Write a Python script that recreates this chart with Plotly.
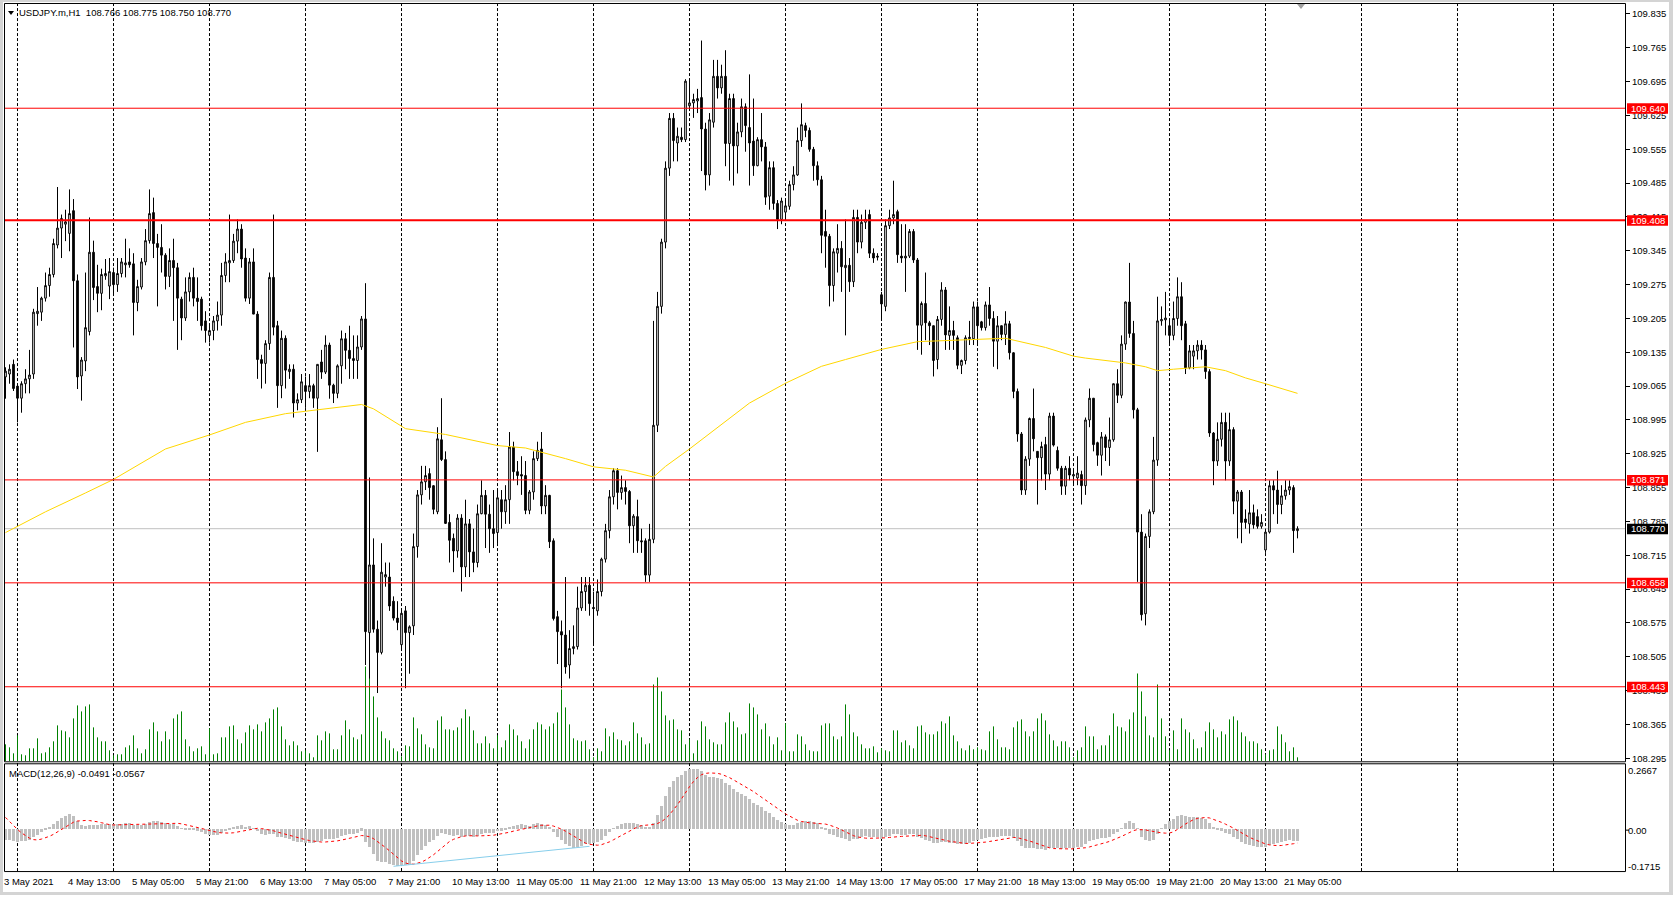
import plotly.graph_objects as go

W, H = 1673, 897

SYMBOL_HEADER = "USDJPY.m,H1  108.766 108.775 108.750 108.770"
MACD_HEADER = "MACD(12,26,9) -0.0491 -0.0567"

# ---------------- hourly OHLC (bar 0 = 3 May 21:00 broker time) ----------------
OPEN = [
109.084,109.090,109.110,109.065,109.040,109.070,109.080,109.090,109.215,109.218,
109.247,109.273,109.296,109.357,109.392,109.400,109.381,109.428,109.283,109.086,
109.117,109.178,109.342,109.271,109.257,109.293,109.272,109.300,109.275,109.298,
109.316,109.322,109.318,109.238,109.270,109.322,109.366,109.424,109.360,109.352,
109.336,109.292,109.325,109.310,109.245,109.206,109.260,109.290,109.247,109.245,
109.200,109.170,109.180,109.200,109.212,109.294,109.320,109.325,109.365,109.390,
109.330,109.247,109.322,109.214,109.120,109.112,109.153,109.290,109.190,109.066,
109.164,109.095,109.100,109.030,109.037,109.066,109.054,109.066,109.040,109.115,
109.094,109.150,109.067,109.050,109.107,109.163,109.139,109.122,109.118,109.146,
109.204,108.555,108.695,108.562,108.514,108.670,108.670,108.620,108.585,108.530,
108.600,108.555,108.569,108.733,108.840,108.867,108.884,108.859,108.805,108.954,
108.913,108.783,108.750,108.724,108.792,108.691,108.780,108.722,108.700,108.801,
108.839,108.800,108.770,108.762,108.830,108.805,108.830,108.939,108.888,108.882,
108.880,108.808,108.846,108.915,108.935,108.817,108.839,108.745,108.588,108.557,
108.550,108.488,108.522,108.526,108.606,108.640,108.653,108.607,108.600,108.640,
108.707,108.766,108.836,108.890,108.845,108.855,108.847,108.776,108.795,108.745,
108.745,108.674,108.748,108.984,109.230,109.363,109.516,109.619,109.568,109.580,
109.575,109.645,109.651,109.655,109.662,109.597,109.502,109.611,109.706,109.682,
109.706,109.567,109.660,109.562,109.591,109.643,109.600,109.572,109.521,109.575,
109.560,109.458,109.517,109.443,109.410,109.425,109.437,109.482,109.502,109.573,
109.604,109.594,109.555,109.521,109.492,109.385,109.375,109.273,109.340,109.350,
109.310,109.315,109.281,109.414,109.363,109.404,109.420,109.340,109.334,109.254,
109.230,109.397,109.413,109.426,109.334,109.330,109.334,109.385,109.326,109.191,
109.236,109.196,109.190,109.120,109.203,109.264,109.170,109.180,109.165,109.108,
109.118,109.163,109.163,109.229,109.198,109.186,109.233,109.205,109.158,109.190,
109.172,109.194,109.134,109.054,108.966,108.850,108.914,108.998,108.930,108.917,
108.944,108.883,109.003,108.932,108.895,108.858,108.895,108.879,108.875,108.882,
108.859,108.995,109.040,108.948,108.922,108.960,108.938,108.954,109.070,109.046,
109.152,109.239,109.174,109.016,108.763,108.594,108.754,108.805,108.912,109.200,
109.202,109.190,109.170,109.205,109.250,109.194,109.103,109.127,109.138,109.150,
109.140,109.095,108.968,108.910,108.955,108.990,108.910,108.975,108.827,108.846,
108.790,108.780,108.803,108.795,108.775,108.726,108.763,108.859,108.850,108.820,
108.838,108.850,108.855,108.766]

HIGH = [
109.104,109.110,109.120,109.070,109.075,109.100,109.140,109.225,109.270,109.250,
109.300,109.310,109.370,109.477,109.420,109.430,109.472,109.452,109.296,109.125,
109.300,109.414,109.366,109.316,109.308,109.328,109.330,109.310,109.330,109.330,
109.370,109.350,109.340,109.285,109.330,109.390,109.472,109.455,109.380,109.400,
109.340,109.350,109.370,109.320,109.250,109.290,109.300,109.310,109.290,109.250,
109.220,109.190,109.210,109.240,109.320,109.340,109.420,109.380,109.410,109.400,
109.350,109.330,109.350,109.220,109.130,109.160,109.300,109.420,109.200,109.180,
109.170,109.110,109.110,109.050,109.090,109.085,109.090,109.070,109.110,109.140,
109.170,109.155,109.070,109.110,109.180,109.175,109.190,109.170,109.170,109.210,
109.278,108.876,108.750,108.580,108.740,108.700,108.700,108.630,108.620,108.600,
108.610,108.570,108.760,108.850,108.900,108.900,108.895,108.860,108.980,109.040,
108.930,108.800,108.760,108.800,108.800,108.830,108.790,108.770,108.820,108.870,
108.850,108.820,108.850,108.850,108.850,108.860,108.970,108.950,108.910,108.920,
108.910,108.850,108.930,108.950,108.970,108.860,108.840,108.750,108.600,108.580,
108.670,108.560,108.570,108.650,108.670,108.670,108.670,108.640,108.665,108.710,
108.780,108.850,108.895,108.895,108.880,108.870,108.850,108.800,108.830,108.770,
108.750,108.780,109.200,109.260,109.370,109.530,109.630,109.630,109.600,109.600,
109.700,109.700,109.670,109.680,109.780,109.610,109.630,109.740,109.740,109.730,
109.760,109.670,109.670,109.610,109.660,109.650,109.710,109.660,109.580,109.630,
109.570,109.530,109.530,109.450,109.455,109.450,109.490,109.520,109.600,109.650,
109.610,109.600,109.560,109.530,109.500,109.430,109.380,109.350,109.400,109.365,
109.410,109.330,109.430,109.430,109.420,109.430,109.430,109.350,109.340,109.260,
109.410,109.430,109.490,109.430,109.400,109.400,109.390,109.390,109.330,109.240,
109.300,109.200,109.190,109.210,109.280,109.270,109.230,109.200,109.170,109.120,
109.170,109.200,109.240,109.240,109.200,109.240,109.270,109.220,109.210,109.190,
109.220,109.200,109.135,109.060,108.970,108.920,109.000,109.060,108.930,108.950,
108.960,109.010,109.010,108.940,108.900,108.900,108.920,108.890,108.920,108.890,
109.000,109.060,109.040,108.950,108.970,108.965,109.000,109.070,109.100,109.170,
109.240,109.320,109.200,109.020,108.800,108.760,108.810,108.960,109.250,109.230,
109.260,109.200,109.240,109.290,109.280,109.200,109.150,109.150,109.160,109.160,
109.150,109.100,108.970,108.990,109.010,109.010,109.010,108.980,108.850,108.850,
108.810,108.850,108.820,108.810,108.800,108.770,108.870,108.870,108.890,108.860,
108.870,108.870,108.860,108.775]

LOW = [
109.039,109.070,109.055,108.990,109.010,109.050,109.050,109.080,109.190,109.200,
109.240,109.250,109.290,109.350,109.330,109.365,109.344,109.145,109.059,109.035,
109.096,109.170,109.243,109.218,109.222,109.285,109.245,109.255,109.260,109.290,
109.290,109.310,109.170,109.220,109.265,109.315,109.360,109.330,109.230,109.300,
109.265,109.270,109.200,109.140,109.160,109.200,109.240,109.230,109.200,109.180,
109.155,109.155,109.160,109.180,109.190,109.280,109.280,109.320,109.340,109.310,
109.240,109.235,109.214,109.080,109.060,109.070,109.140,109.170,109.020,109.040,
109.060,109.080,109.000,109.015,109.030,109.020,109.040,109.020,108.929,109.080,
109.090,109.039,109.030,109.040,109.070,109.100,109.080,109.080,109.080,109.140,
108.488,108.460,108.555,108.430,108.510,108.650,108.600,108.580,108.560,108.520,
108.440,108.470,108.550,108.710,108.820,108.850,108.830,108.800,108.800,108.910,
108.780,108.700,108.680,108.710,108.640,108.670,108.670,108.680,108.690,108.800,
108.730,108.720,108.730,108.740,108.770,108.780,108.780,108.870,108.860,108.840,
108.800,108.800,108.830,108.910,108.800,108.800,108.730,108.580,108.490,108.440,
108.470,108.460,108.510,108.520,108.600,108.600,108.590,108.530,108.590,108.630,
108.700,108.750,108.820,108.810,108.830,108.820,108.740,108.720,108.720,108.720,
108.660,108.660,108.740,108.970,109.215,109.350,109.500,109.530,109.530,109.570,
109.570,109.635,109.620,109.630,109.510,109.470,109.480,109.600,109.660,109.670,
109.520,109.490,109.480,109.505,109.580,109.550,109.480,109.500,109.520,109.530,
109.440,109.430,109.430,109.390,109.400,109.410,109.430,109.470,109.500,109.560,
109.580,109.550,109.490,109.480,109.340,109.310,109.230,109.240,109.300,109.260,
109.170,109.260,109.270,109.340,109.350,109.390,109.330,109.320,109.325,109.200,
109.220,109.390,109.400,109.320,109.320,109.260,109.330,109.320,109.140,109.130,
109.160,109.150,109.085,109.100,109.190,109.140,109.140,109.140,109.100,109.090,
109.110,109.150,109.150,109.150,109.180,109.180,109.190,109.105,109.100,109.160,
109.150,109.120,109.040,108.950,108.840,108.840,108.900,108.930,108.820,108.870,
108.850,108.870,108.940,108.890,108.840,108.840,108.870,108.860,108.860,108.820,
108.840,108.980,108.930,108.900,108.880,108.910,108.900,108.950,109.030,109.040,
109.140,109.165,108.998,108.660,108.580,108.570,108.730,108.800,108.900,109.190,
109.170,109.150,109.160,109.190,109.160,109.090,109.100,109.100,109.120,109.120,
109.080,108.960,108.860,108.900,108.940,108.870,108.900,108.800,108.750,108.740,
108.770,108.760,108.770,108.770,108.770,108.720,108.760,108.800,108.780,108.800,
108.830,108.840,108.720,108.750]

CLOSE = [
109.096,109.100,109.060,109.040,109.070,109.080,109.088,109.218,109.220,109.247,
109.273,109.296,109.360,109.392,109.412,109.405,109.422,109.283,109.084,109.119,
109.186,109.342,109.269,109.257,109.296,109.298,109.302,109.275,109.298,109.322,
109.320,109.316,109.238,109.271,109.322,109.366,109.422,109.360,109.352,109.336,
109.292,109.325,109.310,109.247,109.206,109.260,109.290,109.247,109.240,109.190,
109.180,109.180,109.200,109.212,109.294,109.322,109.325,109.365,109.390,109.328,
109.247,109.322,109.214,109.120,109.112,109.153,109.290,109.187,109.066,109.164,
109.098,109.100,109.030,109.037,109.074,109.054,109.066,109.040,109.110,109.094,
109.150,109.067,109.050,109.107,109.163,109.139,109.122,109.118,109.146,109.204,
108.557,108.695,108.562,108.514,108.680,108.675,108.610,108.585,108.576,108.595,
108.555,108.567,108.733,108.840,108.867,108.880,108.855,108.810,108.956,108.913,
108.781,108.746,108.724,108.792,108.691,108.780,108.722,108.700,108.801,108.839,
108.800,108.770,108.760,108.834,108.805,108.830,108.939,108.888,108.880,108.879,
108.808,108.846,108.915,108.932,108.817,108.839,108.743,108.584,108.557,108.550,
108.484,108.522,108.526,108.606,108.640,108.653,108.615,108.605,108.640,108.707,
108.766,108.836,108.890,108.845,108.855,108.847,108.776,108.796,108.745,108.743,
108.674,108.748,108.984,109.230,109.363,109.516,109.619,109.573,109.582,109.575,
109.696,109.651,109.658,109.660,109.597,109.502,109.616,109.706,109.682,109.706,
109.567,109.660,109.562,109.591,109.643,109.604,109.568,109.521,109.575,109.560,
109.456,109.517,109.443,109.410,109.448,109.438,109.482,109.502,109.573,109.606,
109.594,109.555,109.521,109.492,109.377,109.375,109.273,109.343,109.350,109.312,
109.315,109.281,109.414,109.363,109.404,109.410,109.340,109.330,109.332,109.235,
109.397,109.413,109.420,109.337,109.330,109.334,109.385,109.326,109.191,109.236,
109.196,109.190,109.118,109.203,109.264,109.171,109.180,109.170,109.108,109.118,
109.165,109.166,109.229,109.190,109.186,109.233,109.205,109.158,109.190,109.172,
109.194,109.134,109.054,108.966,108.850,108.914,108.998,108.956,108.917,108.940,
108.883,109.003,108.943,108.895,108.858,108.895,108.881,108.882,108.885,108.859,
108.995,109.040,108.944,108.922,108.960,108.938,108.954,109.070,109.046,109.152,
109.239,109.174,109.016,108.763,108.592,108.754,108.805,108.912,109.200,109.203,
109.206,109.170,109.205,109.250,109.190,109.103,109.138,109.138,109.150,109.140,
109.095,108.968,108.910,108.955,108.990,108.910,108.975,108.827,108.846,108.783,
108.783,108.803,108.778,108.775,108.783,108.763,108.859,108.850,108.820,108.838,
108.850,108.857,108.766,108.770]

# tick volume (relative units)
VOLUME = [
17,14,8,26,7,6,13,13,23,8, 9,14,20,36,31,30,24,43,56,50,
55,57,34,24,20,20,11,6,7,7, 14,16,26,13,8,12,32,39,30,20,
30,22,43,47,50,22,15,10,13,15, 7,33,7,8,24,24,35,36,22,18,
29,36,32,37,30,39,43,52,54,35, 22,16,20,16,10,11,8,4,26,21,
30,28,12,12,26,41,32,24,22,27, 95,89,65,44,30,23,21,13,10,5,
16,15,44,33,27,17,14,13,41,45, 32,32,31,34,43,52,45,31,18,18,
25,18,13,26,14,21,37,32,26,20, 13,22,32,39,37,32,35,38,49,72,
54,37,23,21,20,21,12,4,13,10, 33,25,29,22,21,16,20,39,28,24,
17,18,77,84,70,46,41,42,32,31, 17,22,8,21,40,35,22,19,17,17,
39,49,40,34,27,28,58,54,47,32, 38,25,17,24,11,38,10,10,27,25,
17,11,10,10,36,38,38,25,22,25, 57,47,29,25,17,13,13,15,9,13,
11,10,31,31,19,21,16,13,35,36, 29,27,27,30,40,38,45,26,20,13,
11,16,12,14,12,11,30,35,22,14, 14,12,34,40,42,30,25,30,43,48,
41,27,21,15,20,20,14,4,11,14, 35,25,25,12,16,16,26,48,35,34,
30,42,49,88,70,45,26,24,77,43, 25,11,31,12,43,32,29,22,13,14,
30,39,32,24,30,27,42,45,41,29, 25,20,20,18,12,7,11,12,35,27,
19,10,14,4]

# moving average (yellow)
MA_BARS = [0,10,20,27,40,51,60,70,75,89,92,96,100,110,123,130,140,147,155,162,165,171,
           180,186,195,204,210,219,228,240,250,260,267,270,280,285,288,292,300,305,310,315,323]
MA_VALUES = [108.762,108.805,108.844,108.872,108.935,108.964,108.990,109.008,109.013,109.027,
             109.018,108.998,108.977,108.965,108.942,108.937,108.915,108.898,108.891,108.877,
             108.899,108.935,108.991,109.030,109.071,109.106,109.120,109.141,109.157,109.161,
             109.164,109.145,109.127,109.123,109.113,109.105,109.097,109.100,109.105,109.097,
             109.082,109.070,109.050]

PRICE_TICKS = [109.835,109.765,109.695,109.625,109.555,109.485,109.415,109.345,109.275,109.205,
               109.135,109.065,108.995,108.925,108.855,108.785,108.715,108.645,108.575,108.505,
               108.435,108.365,108.295]
LEVELS = [109.640, 109.408, 108.871, 108.658, 108.443]
LEVEL_WIDTHS = [1, 2, 1, 1, 1]
BID = 108.770

DATE_LABEL_BARS = [0,16,32,48,64,80,96,112,128,144,160,176,192,208,224,240,256,272,288,304,320]
DATE_LABELS = ["3 May 2021","4 May 13:00","5 May 05:00","5 May 21:00","6 May 13:00","7 May 05:00",
               "7 May 21:00","10 May 13:00","11 May 05:00","11 May 21:00","12 May 13:00",
               "13 May 05:00","13 May 21:00","14 May 13:00","17 May 05:00","17 May 21:00",
               "18 May 13:00","19 May 05:00","19 May 21:00","20 May 13:00","21 May 05:00"]
DAY_START_BARS = [3,27,51,75,99,123,147,171,195,219,243,267,291,315,339,363,387]

MACD_RANGE = [-0.1715, 0.2667]
MACD_AXIS_LABELS = ["0.2667", "0.00", "-0.1715"]
MACD_AXIS_LABEL_Y = [772, 832, 868]
MACD_SEED_EMA12 = 109.150
MACD_SEED_EMA26 = 109.195
MACD_PRE_MAIN = [0.110, 0.100, 0.090, 0.075, 0.060, 0.040, 0.020, -0.010]
TREND_BARS = [97, 146]
TREND_VALUES = [-0.152, -0.070]

# ---------------- MACD(12,26,9) of the close ----------------
def ema(values, period, seed):
    a = 2.0 / (period + 1)
    e, out = seed, []
    for v in values:
        e = e + a * (v - e)
        out.append(e)
    return out

e12 = ema(CLOSE, 12, MACD_SEED_EMA12)
e26 = ema(CLOSE, 26, MACD_SEED_EMA26)
macd_main = [a - b for a, b in zip(e12, e26)]
full_main = MACD_PRE_MAIN + macd_main
macd_signal = [sum(full_main[i:i + 9]) / 9.0 for i in range(len(macd_main))]

n = len(CLOSE)
bars = list(range(n))

def px(x):
    return x / W

def py(y):
    return 1 - y / H

def bar_px(b):
    return 5.5 + 4 * b

FONT = "Liberation Sans, Arial, sans-serif"
FS = 9.5

fig = go.Figure()

# volumes as 1px vertical sticks
vx, vy = [], []
for i, v in enumerate(VOLUME):
    vx += [i, i, None]
    vy += [0, v, None]
fig.add_trace(go.Scatter(x=vx, y=vy, mode="lines", line=dict(color="#008000", width=1),
                         xaxis="x", yaxis="y", hoverinfo="skip"))

fig.add_trace(go.Candlestick(
    x=bars, open=OPEN, high=HIGH, low=LOW, close=CLOSE, xaxis="x", yaxis="y2",
    increasing=dict(line=dict(color="black", width=1), fillcolor="white"),
    decreasing=dict(line=dict(color="black", width=1), fillcolor="black"),
    whiskerwidth=0, hoverinfo="skip"))

fig.add_trace(go.Scatter(x=MA_BARS, y=MA_VALUES, mode="lines",
                         line=dict(color="#FFD700", width=1), xaxis="x", yaxis="y2", hoverinfo="skip"))

fig.add_trace(go.Bar(x=bars, y=macd_main, width=0.75, marker=dict(color="#C0C0C0", line=dict(width=0)),
                     xaxis="x", yaxis="y3", hoverinfo="skip"))
fig.add_trace(go.Scatter(x=bars, y=macd_signal, mode="lines",
                         line=dict(color="#FF0000", width=1, dash="dot"), xaxis="x", yaxis="y3", hoverinfo="skip"))
fig.add_trace(go.Scatter(x=TREND_BARS, y=TREND_VALUES, mode="lines",
                         line=dict(color="#87CEEB", width=1), xaxis="x", yaxis="y3", hoverinfo="skip"))

shapes = []
for b in DAY_START_BARS:
    shapes.append(dict(type="line", xref="x", yref="paper", x0=b, x1=b, y0=py(873), y1=py(4),
                       line=dict(color="black", width=1, dash="3px,2px"), layer="below"))
shapes.append(dict(type="line", xref="paper", yref="y2", x0=px(5), x1=px(1625), y0=BID, y1=BID,
                   line=dict(color="#C0C0C0", width=1), layer="below"))
for lv, lw in zip(LEVELS, LEVEL_WIDTHS):
    shapes.append(dict(type="line", xref="paper", yref="y2", x0=px(5), x1=px(1625), y0=lv, y1=lv,
                       line=dict(color="#FF0000", width=lw), layer="above"))
shapes.append(dict(type="rect", xref="paper", yref="paper", x0=px(4.5), x1=px(1625.5), y0=py(763.5), y1=py(3.5),
                   line=dict(color="black", width=1), fillcolor="rgba(0,0,0,0)", layer="above"))
shapes.append(dict(type="rect", xref="paper", yref="paper", x0=px(4.5), x1=px(1625.5), y0=py(873.5), y1=py(765.5),
                   line=dict(color="black", width=1), fillcolor="rgba(0,0,0,0)", layer="above"))
for (x0, y0, x1, y1) in [(0, 0, 3, 897), (0, 0, 1673, 2), (1669, 0, 1673, 897), (0, 894, 1673, 897)]:
    shapes.append(dict(type="rect", xref="paper", yref="paper", x0=px(x0), x1=px(x1), y0=py(y1), y1=py(y0),
                       line=dict(width=0), fillcolor="#D4D4D4", layer="above"))
shapes.append(dict(type="path", xref="paper", yref="paper",
                   path=f"M {px(8)} {py(11)} L {px(14)} {py(11)} L {px(11)} {py(15)} Z",
                   fillcolor="black", line=dict(width=0), layer="above"))
shapes.append(dict(type="path", xref="paper", yref="paper",
                   path=f"M {px(1297)} {py(4)} L {px(1305)} {py(4)} L {px(1301)} {py(9)} Z",
                   fillcolor="#A0A0A0", line=dict(width=0), layer="above"))
for lv in LEVELS:
    shapes.append(dict(type="rect", xref="paper", yref="y2", x0=px(1627), x1=px(1668),
                       y0=lv - 5.5 / 484.4, y1=lv + 5.0 / 484.4, fillcolor="#FF0000", line=dict(width=0), layer="above"))
shapes.append(dict(type="rect", xref="paper", yref="y2", x0=px(1627), x1=px(1668),
                   y0=BID - 5.5 / 484.4, y1=BID + 5.0 / 484.4, fillcolor="black", line=dict(width=0), layer="above"))
shapes.append(dict(type="line", xref="paper", yref="paper", x0=px(1625), x1=px(1629), y0=py(832), y1=py(832),
                   line=dict(color="black", width=1)))

ann = []
ann.append(dict(text=SYMBOL_HEADER, xref="paper", yref="paper", x=px(17), y=py(13), xanchor="left",
                yanchor="middle", showarrow=False, font=dict(family=FONT, size=FS, color="black")))
ann.append(dict(text=MACD_HEADER, xref="paper", yref="paper", x=px(7), y=py(775), xanchor="left",
                yanchor="middle", showarrow=False, font=dict(family=FONT, size=FS, color="black")))
for b, t in zip(DATE_LABEL_BARS, DATE_LABELS):
    ann.append(dict(text=t, xref="paper", yref="paper", x=px(bar_px(b) - 3.6), y=py(883), xanchor="left",
                    yanchor="middle", showarrow=False, font=dict(family=FONT, size=FS, color="black")))
for lv in LEVELS:
    ann.append(dict(text=f"{lv:.3f}", xref="paper", yref="y2", x=px(1647.5), y=lv, xanchor="center",
                    yanchor="middle", showarrow=False, font=dict(family=FONT, size=FS, color="white")))
ann.append(dict(text=f"{BID:.3f}", xref="paper", yref="y2", x=px(1647.5), y=BID, xanchor="center",
                yanchor="middle", showarrow=False, font=dict(family=FONT, size=FS, color="white")))
for t, yy in zip(MACD_AXIS_LABELS, MACD_AXIS_LABEL_Y):
    ann.append(dict(text=t, xref="paper", yref="paper", x=px(1626), y=py(yy), xanchor="left", yanchor="middle",
                    showarrow=False, font=dict(family=FONT, size=FS, color="black")))

price_top = 109.835 + 10 / 484.4
price_bot = price_top - 759 / 484.4

fig.update_layout(
    width=W, height=H, margin=dict(l=0, r=0, t=0, b=0),
    paper_bgcolor="white", plot_bgcolor="rgba(0,0,0,0)",
    showlegend=False, hovermode=False, boxgap=0.4, bargap=0,
    xaxis=dict(domain=[px(5), px(1625)], range=[-0.125, 404.875], showticklabels=False, showgrid=False,
               zeroline=False, showline=False, ticks="", rangeslider=dict(visible=False), anchor="y3"),
    yaxis=dict(domain=[py(763), py(4)], range=[0, 759], visible=False, fixedrange=True),
    yaxis2=dict(overlaying="y", side="right", anchor="x", range=[price_bot, price_top],
                tickvals=PRICE_TICKS, ticktext=[f"{v:.3f}" for v in PRICE_TICKS],
                ticks="outside", ticklen=4, tickcolor="black", tickwidth=1,
                showgrid=False, zeroline=False, showline=False,
                tickfont=dict(family=FONT, size=FS, color="black")),
    yaxis3=dict(domain=[py(873), py(766)], range=MACD_RANGE, showticklabels=False, showgrid=False,
                zeroline=False, showline=False, ticks=""),
    shapes=shapes, annotations=ann,
)

fig.write_html("out.html", config={"displayModeBar": False},
               post_script="document.body.style.margin='0px';document.body.style.overflow='hidden';")
